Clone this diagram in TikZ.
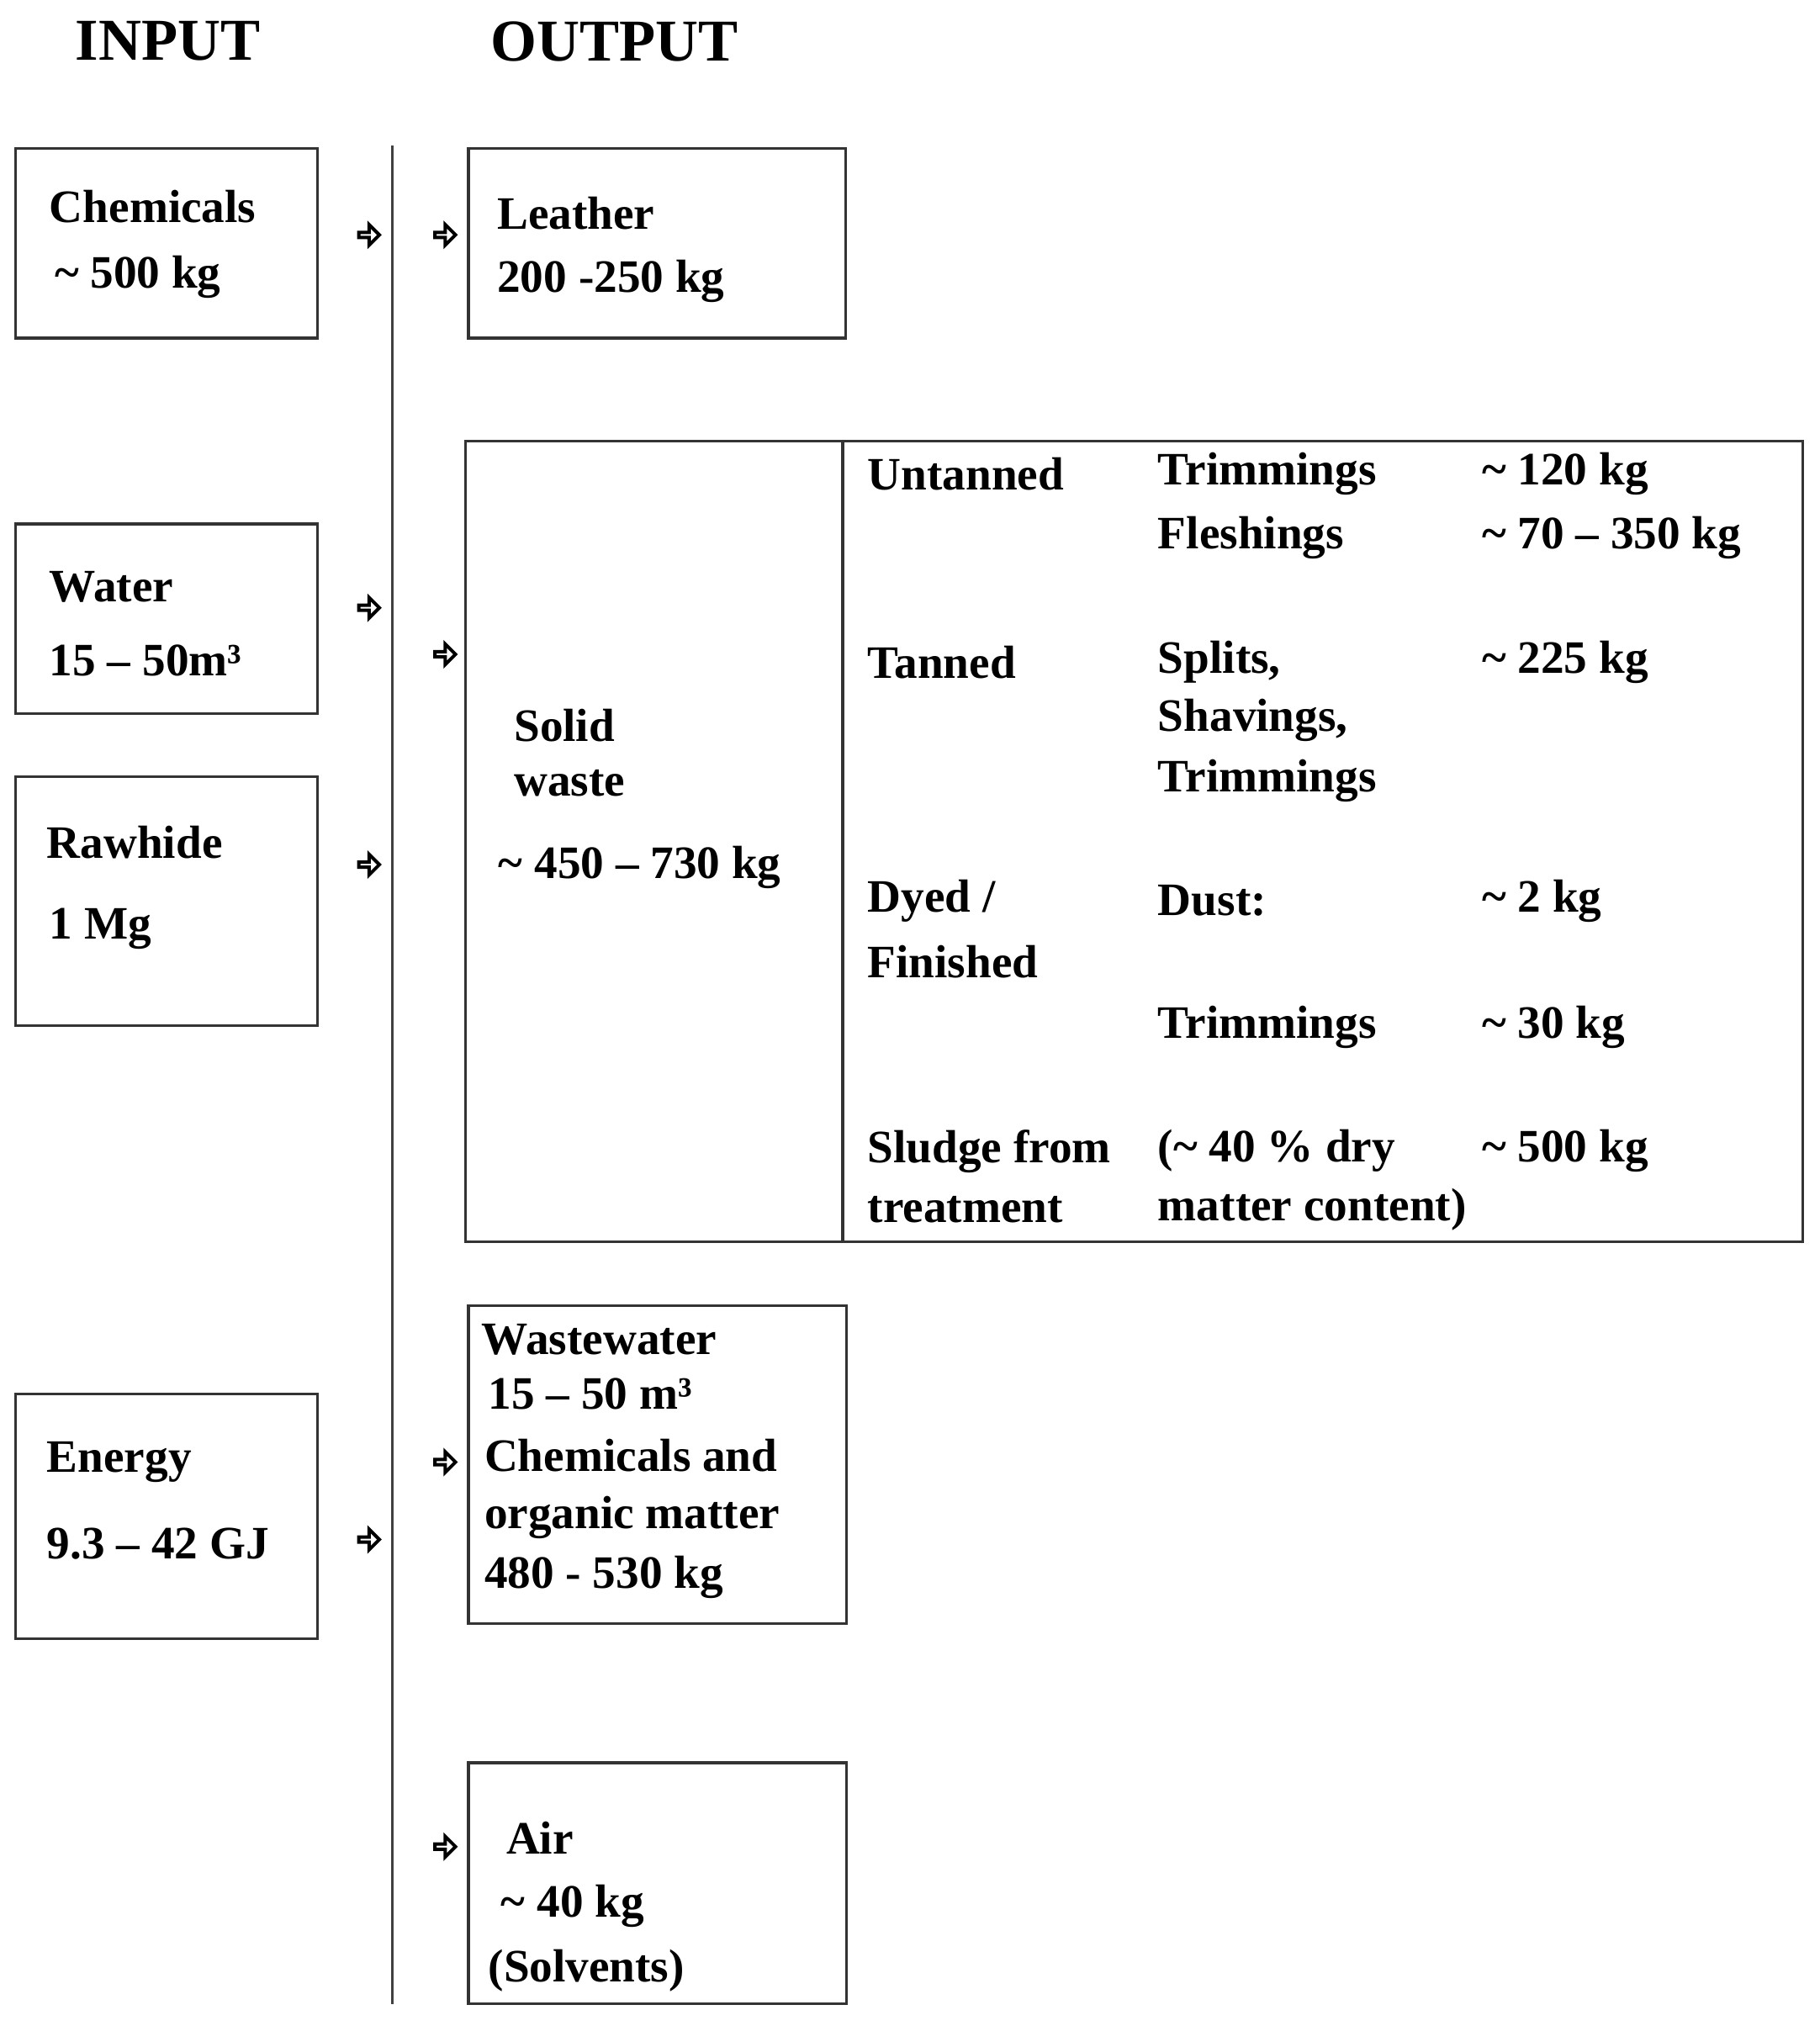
\documentclass[tikz,border=0pt]{standalone}
\usepackage{fontspec}
\setmainfont{Liberation Serif}
\usetikzlibrary{shapes.arrows}
\begin{document}
\begin{tikzpicture}[x=0.5pt,y=-0.5pt,
  box/.style={draw=black!80,line width=1pt},
  t/.style={anchor=west,inner sep=0pt,font=\fontsize{18}{22}\selectfont\bfseries},
  ttl/.style={anchor=west,inner sep=0pt,font=\fontsize{23}{26}\selectfont\bfseries},
  arr/.style={single arrow,draw=black,fill=white,line width=1.3pt,minimum height=8pt,minimum width=8pt,single arrow head extend=2pt,inner sep=0pt}]
\useasboundingbox (0,0) rectangle (1410,1570);
\node[ttl] (ti) at (58,32) {INPUT};
\node[ttl] (to) at (380,32) {OUTPUT};
\draw[line width=1pt,black!75] (304,113) -- (304,1553);
% input boxes
\draw[box] (12,115) rectangle (246,262);
\draw[box] (12,406) rectangle (246,553);
\draw[box] (12,602) rectangle (246,795);
\draw[box] (12,1080) rectangle (246,1270);
% output boxes
\draw[box] (363,115) rectangle (655,262);
\draw[box] (361,342) rectangle (1397,962);
\draw[box] (653,342) -- (653,962);
\draw[box] (363,1012) rectangle (656,1258);
\draw[box] (363,1366) rectangle (656,1553);
% arrows
\foreach \y/\n in {182/a1,471/a2,670/a3,1193/a4} \node[arr] (\n) at (285,\y) {};
\foreach \y/\n in {182/b1,507/b2,1133/b3,1431/b4} \node[arr] (\n) at (344,\y) {};
% input texts
\node[t] (c1) at (38,160) {Chemicals};
\node[t] (c2) at (42,215) {\textasciitilde\ 500 kg};
\node[t] (w1) at (38,455) {Water};
\node[t] (w2) at (38,512) {15 – 50m³};
\node[t] (r1) at (36,653) {Rawhide};
\node[t] (r2) at (38,720) {1 Mg};
\node[t] (e1) at (36,1133) {Energy};
\node[t] (e2) at (36,1196) {9.3 – 42 GJ};
% output texts
\node[t] (l1) at (385,165) {Leather};
\node[t] (l2) at (385,218) {200 -250 kg};
\node[t] (s1) at (398,562) {Solid};
\node[t] (s2) at (398,607) {waste};
\node[t] (s3) at (386,672) {\textasciitilde\ 450 – 730 kg};
\node[t] (u1) at (672,367) {Untanned};
\node[t] (u2) at (897,367) {Trimmings};
\node[t] (u3) at (1148,367) {\textasciitilde\ 120 kg};
\node[t] (u4) at (897,417) {Fleshings};
\node[t] (u5) at (1148,417) {\textasciitilde\ 70 – 350 kg};
\node[t] (n1) at (672,513) {Tanned};
\node[t] (n2) at (897,513) {Splits,};
\node[t] (n3) at (897,558) {Shavings,};
\node[t] (n4) at (897,605) {Trimmings};
\node[t] (n5) at (1148,513) {\textasciitilde\ 225 kg};
\node[t] (d1) at (672,698) {Dyed /};
\node[t] (d2) at (672,745) {Finished};
\node[t] (d3) at (897,698) {Dust:};
\node[t] (d4) at (1148,698) {\textasciitilde\ 2 kg};
\node[t] (d5) at (897,796) {Trimmings};
\node[t] (d6) at (1148,796) {\textasciitilde\ 30 kg};
\node[t] (g1) at (672,892) {Sludge from};
\node[t] (g2) at (672,937) {treatment};
\node[t] (g3) at (897,892) {(\textasciitilde\ 40 \% dry};
\node[t] (g4) at (897,937) {matter content)};
\node[t] (g5) at (1148,892) {\textasciitilde\ 500 kg};
\node[t] (x1) at (373,1038) {Wastewater};
\node[t] (x2) at (378,1080) {15 – 50 m³};
\node[t] (x3) at (375,1128) {Chemicals and};
\node[t] (x4) at (375,1176) {organic matter};
\node[t] (x5) at (375,1222) {480 - 530 kg};
\node[t] (y1) at (392,1424) {Air};
\node[t] (y2) at (388,1477) {\textasciitilde\ 40 kg};
\node[t] (y3) at (378,1527) {(Solvents)};
\end{tikzpicture}
\end{document}
